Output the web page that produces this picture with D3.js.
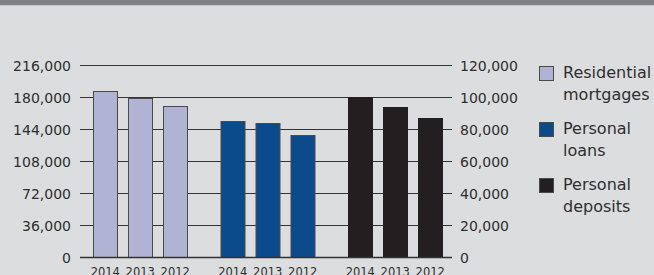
<!DOCTYPE html>
<html>
<head>
<meta charset="utf-8">
<script src="https://cdn.jsdelivr.net/npm/d3@7"></script>
<style>
  body { margin: 0; background: #dcdddf; }
  svg { display: block; }
  .tick text, .lbl { font-family: "DejaVu Sans", sans-serif; fill: #2e2e2e; }
</style>
</head>
<body>
<svg id="chart" width="654" height="275"></svg>
<script>
// DATA
var categories = ['Residential mortgages', 'Personal loans', 'Personal deposits'];
var legendLines = [['Residential', 'mortgages'], ['Personal', 'loans'], ['Personal', 'deposits']];
var years = ['2014', '2013', '2012'];
var mortgages = [186400, 178500, 169500];   // left axis
var loans = [153400, 150700, 137300];       // left axis
var deposits = [100000, 93800, 86900];      // right axis
var leftTicks = [0, 36000, 72000, 108000, 144000, 180000, 216000];
var rightTicks = [0, 20000, 40000, 60000, 80000, 100000, 120000];
var colors = ['#b0b3d3', '#0b4a8b', '#231f20'];

var series = [
  { name: categories[0], values: mortgages, axis: 'left' },
  { name: categories[1], values: loans, axis: 'left' },
  { name: categories[2], values: deposits, axis: 'right' }
];

var svg = d3.select('#chart');
var x0 = 80, x1 = 452;

// header strip
svg.append('rect').attr('x', 0).attr('y', 0).attr('width', 654).attr('height', 5).attr('fill', '#808185');
svg.append('rect').attr('x', 0).attr('y', 5).attr('width', 654).attr('height', 1).attr('fill', '#c4c5c8');

// SCALES (d3 axis adds the half pixel itself)
var yLeft = d3.scaleLinear().domain([0, 216000]).range([257, 65]);
var yRight = d3.scaleLinear().domain([0, 120000]).range([257, 65]);
var xGroup = d3.scaleBand().domain(categories).range([76, 458.5]).padding(0);
var xYear = d3.scaleBand().domain(years).range([0, xGroup.bandwidth()])
  .paddingInner(0.314).paddingOuter(0.48);

var fmt = d3.format(',');

// AXES + GRID
var gl = svg.append('g').attr('transform', 'translate(' + x0 + ',0)')
  .call(d3.axisLeft(yLeft).tickValues(leftTicks).tickFormat(fmt)
    .tickSize(-(x1 - x0)).tickPadding(9));
gl.select('.domain').remove();
gl.selectAll('.tick line').attr('stroke', '#333').attr('stroke-width', 1);
gl.selectAll('.tick text').attr('font-size', 14).attr('dy', '0.37em');

var gr = svg.append('g').attr('transform', 'translate(' + x1 + ',0)')
  .call(d3.axisRight(yRight).tickValues(rightTicks).tickFormat(fmt)
    .tickSize(0).tickPadding(8));
gr.select('.domain').remove();
gr.selectAll('.tick text').attr('font-size', 14).attr('dy', '0.37em');

// BARS
var groups = svg.selectAll('.grp').data(series).enter().append('g')
  .attr('class', 'grp')
  .attr('transform', function(d) { return 'translate(' + xGroup(d.name) + ',0)'; });

groups.selectAll('rect').data(function(d, gi) {
    return d.values.map(function(v, i) { return { v: v, year: years[i], axis: d.axis, gi: gi }; });
  }).enter().append('rect')
  .attr('x', function(d) { return Math.round(xYear(d.year)) + 0.5; })
  .attr('width', Math.round(xYear.bandwidth()))
  .attr('y', function(d) { var y = d.axis == 'left' ? yLeft : yRight; return Math.round(y(d.v)) + 0.5; })
  .attr('height', function(d) { var y = d.axis == 'left' ? yLeft : yRight; return 257 - Math.round(y(d.v)); })
  .attr('fill', function(d) { return colors[d.gi]; })
  .attr('stroke', function(d) { return d.gi == 2 ? colors[2] : '#4a4a4a'; })
  .attr('stroke-width', 1);

// baseline over bars
svg.append('line').attr('x1', x0).attr('x2', x1).attr('y1', yLeft(0) + 0.5).attr('y2', yLeft(0) + 0.5)
  .attr('stroke', '#333').attr('stroke-width', 1.3);

// year labels
groups.selectAll('.yr').data(years).enter().append('text')
  .attr('class', 'lbl yr')
  .attr('x', function(d) { return xYear(d) + xYear.bandwidth() / 2 + 0.5; })
  .attr('y', 276)
  .attr('text-anchor', 'middle')
  .attr('font-size', 11.5)
  .text(function(d) { return d; });

// LEGEND
var legend = svg.selectAll('.legend').data(legendLines).enter().append('g')
  .attr('class', 'legend')
  .attr('transform', function(d, i) { return 'translate(539,' + (66 + i * 56) + ')'; });

legend.append('rect')
  .attr('x', 0.5).attr('y', 0.5).attr('width', 14).attr('height', 14)
  .attr('fill', function(d, i) { return colors[i]; })
  .attr('stroke', '#4a4a4a');

legend.append('text')
  .attr('class', 'lbl')
  .attr('font-size', 16)
  .selectAll('tspan').data(function(d) { return d; }).enter().append('tspan')
  .attr('x', 24)
  .attr('y', function(d, i) { return 12 + i * 22; })
  .text(function(d) { return d; });
</script>
</body>
</html>
